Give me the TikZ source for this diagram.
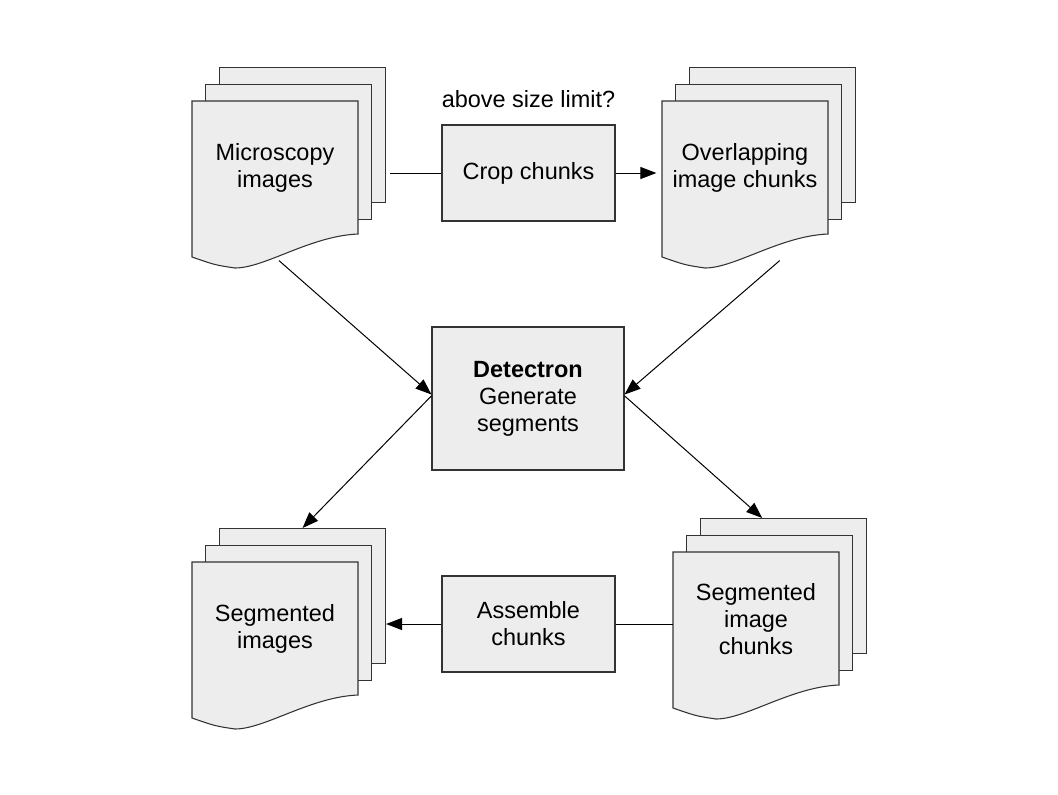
\documentclass[tikz,border=0pt]{standalone}
\usepackage{fontspec}
\setmainfont{Liberation Sans}
\usepackage{tikz}
\usetikzlibrary{arrows.meta, positioning}
\tikzset{every node/.style={font=\fontsize{17.6}{20.3}\selectfont}}

% stack of three pages: name, top left corner of the front page, text
\newcommand{\docstack}[3]{%
  \begin{scope}[shift={#2}]
    \node (#1-back) [page, anchor=north west] at (27,-34) {};
    \node (#1-mid) [page, anchor=north west] at (13,-17) {};
    \draw [pageline] (0,0) -- (166,0) -- (166,133) .. controls (118,135) and (73,167) .. (43,167) .. controls (23,164) .. (0,156) -- cycle;
    \node (#1) [pagetext] at (83,67) {#3};
  \end{scope}}

\begin{document}
\begin{tikzpicture}[x=0.75pt, y=-0.75pt]
    % Define styles
    \tikzstyle{stepbox} = [rectangle, minimum width=129.75pt, minimum height=72pt, text centered, align=center, draw=black!80, line width=0.8pt, fill=black!7]
    \tikzstyle{page} = [rectangle, minimum width=124.5pt, minimum height=101.25pt, inner sep=0pt, draw=black!80, line width=0.8pt, fill=black!7]
    \tikzstyle{pageline} = [draw=black!80, line width=0.8pt, fill=black!7]
    \tikzstyle{pagetext} = [rectangle, minimum width=124.5pt, minimum height=100.5pt, inner sep=0pt, text centered, align=center]
    \tikzstyle{plainline} = [line width=0.75pt]
    \tikzstyle{arrow} = [line width=0.75pt, -{Triangle[length=12pt, width=9pt]}]

    \useasboundingbox (0,0) rectangle (1058,794);

    % Input side
    \docstack{micro}{(192,101)}{Microscopy\\images}
    \node (crop) [stepbox] at (528.5,173) {Crop chunks};
    \node (limit) [above=9pt of crop] {above size limit?};
    \docstack{overlap}{(662,101)}{Overlapping\\image chunks}

    % Segmentation
    \node (detect) [stepbox, minimum width=144pt, minimum height=107.25pt] at (528,398.5) {\textbf{Detectron}\\Generate\\segments};

    % Output side
    \docstack{segimg}{(192,562)}{Segmented\\images}
    \node (assemble) [stepbox] at (528.5,624) {Assemble\\chunks};
    \docstack{segchunks}{(673,552)}{Segmented\\image\\chunks}

    % Foot points below the input stacks
    \coordinate (micro-foot) at ([xshift=3pt, yshift=-19pt]micro.south);
    \coordinate (overlap-foot) at ([xshift=26pt, yshift=-19pt]overlap.south);

    % Cropping
    \draw [plainline, shorten <=3pt] (micro-back.east |- crop.west) -- (crop.west);
    \draw [arrow, shorten >=4pt] (crop.east) -- (overlap.west |- crop.east);

    % Into Detectron
    \draw [arrow] (micro-foot) -- ([yshift=3pt]detect.west);
    \draw [arrow] (overlap-foot) -- ([yshift=3pt]detect.east);

    % Out of Detectron
    \draw [arrow] ([yshift=2pt]detect.west) -- (segimg-back.north);
    \draw [arrow] ([yshift=2pt]detect.east) -- ([xshift=-16pt]segchunks-back.north);

    % Assembling
    \draw [plainline] (segchunks.west |- assemble.east) -- (assemble.east);
    \draw [arrow] (assemble.west) -- (segimg-back.east |- assemble.west);
\end{tikzpicture}
\end{document}
